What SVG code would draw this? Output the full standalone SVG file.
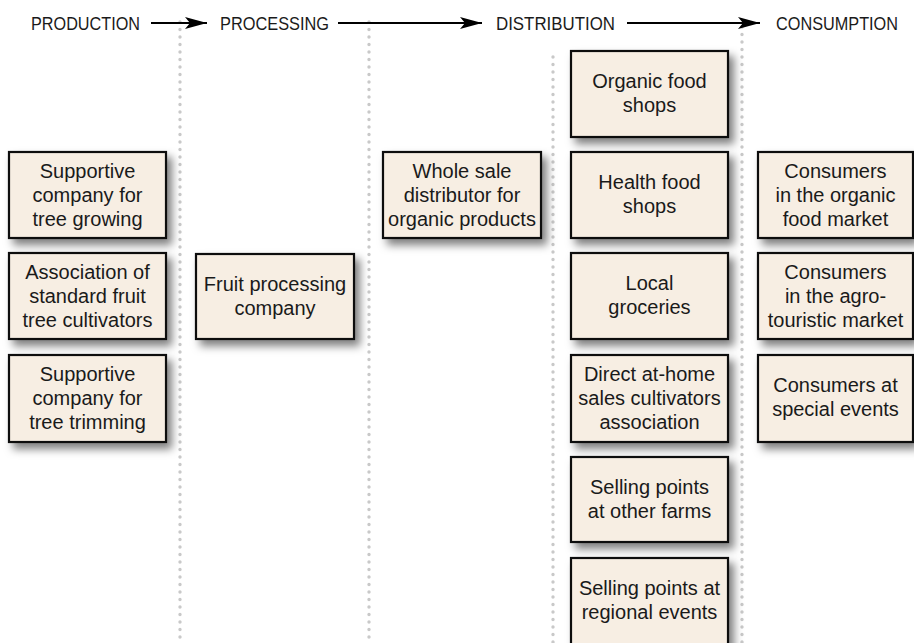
<svg xmlns="http://www.w3.org/2000/svg" width="914" height="643" viewBox="0 0 914 643">
<defs>
<style>
.hdr{font-family:"Liberation Sans",Arial,sans-serif;font-size:18px;fill:#1a1a1a}
.box{fill:#F7EEE3;stroke:#111;stroke-width:2.2}
.lbl{font-family:"Liberation Sans",Arial,sans-serif;font-size:20px;fill:#1a1a1a;text-anchor:middle}
.dots{stroke:#c9c9c9;stroke-width:3.4;stroke-linecap:round;stroke-dasharray:0 7.5;fill:none}
.arr{stroke:#000;stroke-width:2;fill:none}
</style>
<filter id="sh" x="-10%" y="-10%" width="130%" height="140%">
<feDropShadow dx="5" dy="6" stdDeviation="4" flood-color="#000" flood-opacity="0.5"/>
</filter>
<marker id="ah" markerUnits="userSpaceOnUse" markerWidth="24" markerHeight="14" refX="22" refY="7" orient="auto">
<path d="M0,1 L22,7 L0,13 L5,7 Z" fill="#000"/>
</marker>
</defs>
<rect width="914" height="643" fill="#fff"/>
<g id="separators">
<line class="dots" x1="180" y1="22" x2="180" y2="643"/>
<line class="dots" x1="369" y1="22" x2="369" y2="643"/>
<line class="dots" x1="553" y1="57" x2="553" y2="643"/>
<line class="dots" x1="742" y1="27" x2="742" y2="643"/>
</g>
<g id="headers">
<text class="hdr" x="31" y="30" textLength="109" lengthAdjust="spacingAndGlyphs">PRODUCTION</text>
<text class="hdr" x="220" y="30" textLength="109" lengthAdjust="spacingAndGlyphs">PROCESSING</text>
<text class="hdr" x="496" y="30" textLength="119" lengthAdjust="spacingAndGlyphs">DISTRIBUTION</text>
<text class="hdr" x="776" y="30" textLength="122" lengthAdjust="spacingAndGlyphs">CONSUMPTION</text>
</g>
<g id="connectors">
<line class="arr" x1="151" y1="23" x2="207" y2="23" marker-end="url(#ah)"/>
<line class="arr" x1="338" y1="23" x2="482" y2="23" marker-end="url(#ah)"/>
<line class="arr" x1="627" y1="23" x2="760" y2="23" marker-end="url(#ah)"/>
</g>
<g id="prod1"><rect class="box" filter="url(#sh)" x="9" y="152" width="157" height="86"/>
<text class="lbl" x="87.5" y="178">Supportive</text><text class="lbl" x="87.5" y="202">company for</text><text class="lbl" x="87.5" y="226">tree growing</text></g>
<g id="prod2"><rect class="box" filter="url(#sh)" x="9" y="253" width="157" height="86"/>
<text class="lbl" x="87.5" y="279">Association of</text><text class="lbl" x="87.5" y="303">standard fruit</text><text class="lbl" x="87.5" y="327">tree cultivators</text></g>
<g id="prod3"><rect class="box" filter="url(#sh)" x="9" y="355" width="157" height="87"/>
<text class="lbl" x="87.5" y="381">Supportive</text><text class="lbl" x="87.5" y="405">company for</text><text class="lbl" x="87.5" y="429">tree trimming</text></g>
<g id="proc1"><rect class="box" filter="url(#sh)" x="196" y="254" width="158" height="85"/>
<text class="lbl" x="275" y="291">Fruit processing</text><text class="lbl" x="275" y="315">company</text></g>
<g id="whole1"><rect class="box" filter="url(#sh)" x="383" y="152" width="158" height="86"/>
<text class="lbl" x="462" y="178">Whole sale</text><text class="lbl" x="462" y="202">distributor for</text><text class="lbl" x="462" y="226">organic products</text></g>
<g id="dist1"><rect class="box" filter="url(#sh)" x="571" y="51" width="157" height="86"/>
<text class="lbl" x="649.5" y="88">Organic food</text><text class="lbl" x="649.5" y="112">shops</text></g>
<g id="dist2"><rect class="box" filter="url(#sh)" x="571" y="152" width="157" height="86"/>
<text class="lbl" x="649.5" y="189">Health food</text><text class="lbl" x="649.5" y="213">shops</text></g>
<g id="dist3"><rect class="box" filter="url(#sh)" x="571" y="253" width="157" height="86"/>
<text class="lbl" x="649.5" y="290">Local</text><text class="lbl" x="649.5" y="314">groceries</text></g>
<g id="dist4"><rect class="box" filter="url(#sh)" x="571" y="355" width="157" height="87"/>
<text class="lbl" x="649.5" y="381">Direct at-home</text><text class="lbl" x="649.5" y="405">sales cultivators</text><text class="lbl" x="649.5" y="429">association</text></g>
<g id="dist5"><rect class="box" filter="url(#sh)" x="571" y="457" width="157" height="85"/>
<text class="lbl" x="649.5" y="494">Selling points</text><text class="lbl" x="649.5" y="518">at other farms</text></g>
<g id="dist6"><rect class="box" filter="url(#sh)" x="571" y="558" width="157" height="92"/>
<text class="lbl" x="649.5" y="595">Selling points at</text><text class="lbl" x="649.5" y="619">regional events</text></g>
<g id="cons1"><rect class="box" filter="url(#sh)" x="758" y="152" width="155" height="86"/>
<text class="lbl" x="835.5" y="178">Consumers</text><text class="lbl" x="835.5" y="202">in the organic</text><text class="lbl" x="835.5" y="226">food market</text></g>
<g id="cons2"><rect class="box" filter="url(#sh)" x="758" y="253" width="155" height="86"/>
<text class="lbl" x="835.5" y="279">Consumers</text><text class="lbl" x="835.5" y="303">in the agro-</text><text class="lbl" x="835.5" y="327">touristic market</text></g>
<g id="cons3"><rect class="box" filter="url(#sh)" x="758" y="355" width="155" height="87"/>
<text class="lbl" x="835.5" y="392">Consumers at</text><text class="lbl" x="835.5" y="416">special events</text></g>
</svg>
